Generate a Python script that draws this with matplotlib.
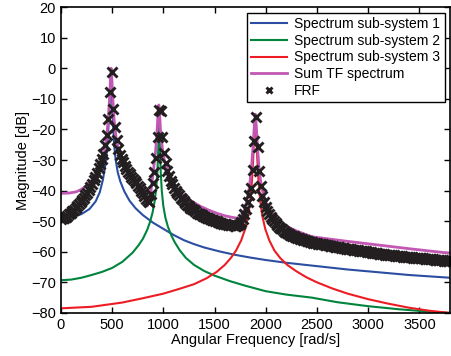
import numpy as np
import matplotlib
matplotlib.use('Agg')
import matplotlib.pyplot as plt

plt.rcParams['font.family'] = ['Liberation Sans', 'DejaVu Sans']
plt.rcParams['font.size'] = 10.5

# sub-system 1 (blue)
w_sub1 = [0, 100, 200, 280, 340, 380, 410, 430, 447, 460, 470, 478, 485, 490, 495, 502, 510,
          520, 535, 555, 580, 620, 670, 730, 800, 900, 1000, 1100, 1200, 1300, 1400, 1550,
          1700, 1850, 2000, 2200, 2500, 2800, 3100, 3400, 3800]
db_sub1 = [-49.0, -48.7, -47.7, -46.0, -43.5, -40.5, -36.5, -32.5, -27.5, -22.0, -16.0, -10.0,
           -5.0, -4.0, -6.0, -12.0, -19.0, -25.0, -30.0, -34.0, -37.0, -40.3, -43.3, -45.8,
           -48.0, -50.5, -52.5, -54.5, -56.2, -57.5, -58.6, -59.9, -61.0, -61.9, -62.7, -63.6,
           -64.7, -65.8, -66.7, -67.6, -68.5]

# sub-system 2 (green)
w_sub2 = [0, 100, 200, 300, 400, 500, 600, 700, 760, 800, 842, 870, 895, 915, 930, 942, 950,
          955, 958, 962, 967, 975, 985, 1000, 1020, 1045, 1075, 1110, 1160, 1220, 1300, 1400,
          1500, 1650, 1800, 2000, 2200, 2450, 2700, 3000, 3300, 3600, 3800]
db_sub2 = [-69.3, -69.1, -68.5, -67.6, -66.6, -65.3, -63.3, -60.3, -57.8, -55.8, -52.9, -50.3,
           -47.2, -43.5, -39.5, -34.0, -27.0, -20.0, -14.0, -19.0, -26.0, -34.0, -40.0, -45.0,
           -48.8, -51.8, -54.4, -56.8, -59.5, -62.0, -64.3, -66.3, -67.8, -69.6, -71.1, -72.9,
           -74.0, -75.0, -76.5, -77.8, -78.8, -79.6, -80.0]

# sub-system 3 (red)
w_sub3 = [0, 300, 600, 800, 1000, 1150, 1300, 1420, 1520, 1600, 1660, 1710, 1760, 1800, 1830,
          1850, 1865, 1877, 1886, 1893, 1897, 1902, 1909, 1918, 1930, 1945, 1965, 1995, 2035,
          2085, 2140, 2210, 2300, 2400, 2500, 2650, 2800, 3000, 3200, 3400, 3600, 3800]
db_sub3 = [-78.5, -78.0, -76.6, -75.2, -73.7, -72.2, -70.6, -68.7, -66.6, -64.3, -62.0, -59.6,
           -56.3, -52.5, -48.0, -43.0, -37.0, -30.0, -23.0, -18.0, -16.5, -18.0, -23.0, -30.0,
           -37.0, -43.0, -48.0, -52.5, -56.3, -59.6, -62.0, -64.3, -66.4, -68.4, -70.0, -72.0,
           -73.7, -75.5, -77.0, -78.3, -79.3, -80.0]

# sum of transfer functions (magenta)
w_sum = [0, 80, 150, 200, 256, 300, 340, 370, 400, 425, 445, 462, 475, 485, 491, 497, 507,
         520, 540, 565, 600, 650, 700, 750, 790, 815, 832, 845, 860, 880, 905, 925, 940, 950,
         956, 962, 972, 990, 1010, 1040, 1080, 1119, 1200, 1282, 1360, 1444, 1530, 1608, 1680,
         1740, 1765, 1790, 1815, 1840, 1860, 1875, 1888, 1898, 1908, 1920, 1935, 1955, 1980,
         2010, 2050, 2100, 2150, 2200, 2300, 2450, 2800, 3100, 3400, 3800]
db_sum = [-40.9, -40.8, -40.4, -39.6, -38.2, -36.6, -34.6, -32.7, -30.4, -27.2, -23.0, -17.0,
          -10.0, -3.0, 0.0, -3.0, -10.0, -17.0, -23.0, -27.0, -30.0, -33.3, -35.8, -38.2, -40.5,
          -42.6, -44.6, -45.0, -43.5, -40.0, -33.0, -27.0, -20.0, -13.5, -12.0, -13.5, -20.0,
          -26.0, -30.0, -33.5, -36.8, -39.5, -41.8, -43.6, -45.1, -46.4, -47.5, -48.3, -48.8,
          -49.1, -48.8, -46.5, -43.5, -39.0, -33.0, -26.0, -19.0, -15.0, -19.0, -26.0, -33.0,
          -38.0, -41.5, -44.5, -47.0, -49.0, -50.5, -51.6, -53.2, -55.1, -56.6, -57.8, -59.0,
          -60.5]

# measured FRF, one point every 16 rad/s from 0
frf_step = 16
frf_db = [
    -49.2, -49.1, -48.9, -48.6, -48.2, -47.8, -47.3, -46.8, -46.3, -45.7,
    -45.1, -44.5, -43.8, -43.1, -42.4, -41.6, -40.7, -39.8, -38.8, -37.8,
    -36.6, -35.4, -34.1, -32.7, -31.2, -29.6, -27.9, -25.2, -21.8, -16.6,
    -7.7, -1.1, -13.4, -19.3, -23.5, -26.4, -28.3, -29.7, -30.8, -31.8,
    -32.8, -33.8, -34.7, -35.5, -36.2, -36.9, -37.6, -38.4, -39.2, -40.0,
    -40.9, -41.7, -42.6, -43.3, -43.6, -41.0, -37.6, -33.8, -29.5, -22.6,
    -13.6, -14.0, -22.4, -27.8, -31.1, -33.5, -35.3, -36.8, -38.0, -39.1,
    -40.0, -40.8, -41.6, -42.3, -42.9, -43.5, -44.1, -44.6, -45.1, -45.6,
    -46.0, -46.4, -46.8, -47.2, -47.5, -47.8, -48.1, -48.4, -48.7, -48.9,
    -49.1, -49.3, -49.5, -49.7, -49.9, -50.1, -50.3, -50.5, -50.6, -50.8,
    -50.9, -51.0, -51.1, -51.2, -51.3, -51.4, -51.5, -51.5, -51.4, -51.0,
    -50.3, -49.3, -47.8, -45.9, -43.8, -41.5, -39.1, -33.3, -23.8, -16.0,
    -25.8, -33.5, -38.5, -41.8, -43.8, -45.3, -46.6, -47.7, -48.6, -49.4,
    -50.1, -50.7, -51.3, -51.8, -52.3, -52.7, -53.1, -53.5, -53.9, -54.3,
    -54.6, -54.8, -55.0, -55.2, -55.4, -55.5, -55.7, -55.9, -56.0, -56.2,
    -56.4, -56.5, -56.7, -56.9, -57.0, -57.1, -57.2, -57.3, -57.4, -57.5,
    -57.6, -57.7, -57.8, -57.9, -58.0, -58.1, -58.2, -58.3, -58.4, -58.5,
    -58.6, -58.7, -58.8, -58.9, -59.0, -59.0, -59.1, -59.2, -59.3, -59.4,
    -59.4, -59.5, -59.6, -59.7, -59.8, -59.9, -59.9, -60.0, -60.1, -60.2,
    -60.3, -60.4, -60.4, -60.5, -60.6, -60.7, -60.7, -60.8, -60.9, -60.9,
    -61.0, -61.1, -61.1, -61.2, -61.3, -61.3, -61.4, -61.4, -61.5, -61.6,
    -61.6, -61.7, -61.7, -61.8, -61.8, -61.9, -61.9, -62.0, -62.0, -62.1,
    -62.2, -62.2, -62.3, -62.3, -62.4, -62.4, -62.5, -62.5, -62.6, -62.6,
    -62.7, -62.7, -62.8, -62.8, -62.9, -62.9, -63.0, -63.0,
]
frf_w = frf_step * np.arange(len(frf_db))

fig = plt.figure(figsize=(4.51, 3.56), dpi=100)
ax = fig.add_axes([0.135, 0.121, 0.863, 0.859])

ax.plot(w_sub1, db_sub1, color='#2b4ea2', lw=1.5, label='Spectrum sub-system 1')
ax.plot(w_sub2, db_sub2, color='#00843d', lw=1.5, label='Spectrum sub-system 2')
ax.plot(w_sub3, db_sub3, color='#ed1c24', lw=1.5, label='Spectrum sub-system 3')
ax.plot(w_sum, db_sum, color='#c257b4', lw=2.0, label='Sum TF spectrum')
ax.plot(frf_w, frf_db, 'x', color='#231f20', ms=6.5, mew=2.1, label='FRF')

ax.set_xlim(0, 3800)
ax.set_ylim(-80, 20)
ax.set_xticks(np.arange(0, 3501, 500))
ax.set_yticks(np.arange(-80, 21, 10))
ax.tick_params(direction='in', top=True, right=True, length=4, width=1, labelsize=10.5)
for s in ax.spines.values():
    s.set_linewidth(1.2)
ax.set_xlabel('Angular Frequency [rad/s]', labelpad=1)
ax.set_ylabel('Magnitude [dB]', labelpad=1)

leg = ax.legend(loc='upper right', fancybox=False, framealpha=1, edgecolor='black',
                handlelength=2.6, labelspacing=0.2, borderaxespad=0.4,
                borderpad=0.3, handletextpad=0.5, fontsize=10)
leg.get_frame().set_linewidth(1.0)
for h in leg.legend_handles[4:]:
    h.set_markersize(5)

fig.savefig('out.png', dpi=100)
